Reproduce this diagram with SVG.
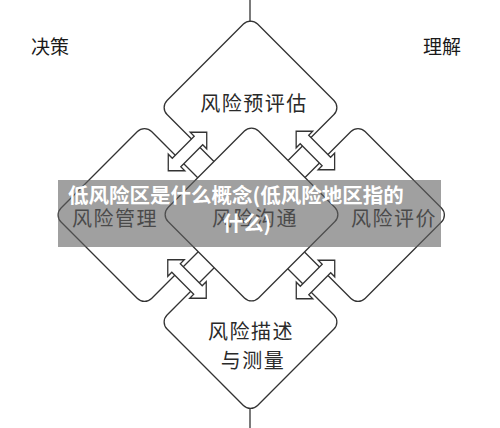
<svg xmlns="http://www.w3.org/2000/svg" width="500" height="428" viewBox="0 0 500 428">
<style>
.d{fill:#fff;stroke:#333;stroke-width:1.3}
.a{fill:#fff;stroke:#333;stroke-width:1.3;stroke-linejoin:miter}
.ln{stroke:#333;stroke-width:1.3;fill:none}
.t{font-family:"Noto Sans CJK SC","Noto Sans",sans-serif;font-size:20px;fill:#2a2a2a;text-anchor:middle;letter-spacing:1.5px}
.h{font-family:"Noto Sans CJK SC","Noto Sans",sans-serif;font-size:19px;fill:#1a1a1a}
.b{font-family:"Noto Sans CJK SC","Noto Sans",sans-serif;font-size:20.5px;font-weight:bold;fill:#fff}
</style>
<defs>
<rect id="dia" x="-64" y="-64" width="128" height="128" rx="10"/>
<path id="dbl" d="M -27.2,0 L -15.5,-11.7 L -15.5,-6 L 15.5,-6 L 15.5,-11.7 L 27.2,0 L 15.5,11.7 L 15.5,6 L -15.5,6 L -15.5,11.7 Z"/>
</defs>
<rect width="500" height="428" fill="#fff"/>
<text class="h" x="31" y="54">决策</text>
<text class="h" x="423" y="54">理解</text>
<g id="top"><use href="#dia" class="d" transform="translate(250.5,107.5) rotate(45)"/><text class="t" x="254" y="111">风险预评估</text></g>
<g id="left"><use href="#dia" class="d" transform="translate(144.5,215) rotate(45)"/><text class="t" x="115" y="226">风险管理</text></g>
<g id="right"><use href="#dia" class="d" transform="translate(358,215) rotate(45)"/><text class="t" x="394" y="226">风险评价</text></g>
<g id="bottom"><use href="#dia" class="d" transform="translate(250.5,322) rotate(45)"/><text class="t" x="251" y="339">风险描述</text><text class="t" x="253" y="368">与测量</text></g>
<g id="center"><use href="#dia" class="d" transform="translate(251.5,214.5) rotate(45)"/><text class="t" x="255" y="226">风险沟通</text></g>
<g id="connectors">
<line class="ln" x1="250" y1="0" x2="250" y2="22"/>
<line class="ln" x1="250" y1="408" x2="250" y2="428"/>
<use href="#dbl" class="a" transform="translate(187.5,151.5) rotate(-45)"/>
<use href="#dbl" class="a" transform="translate(315.4,150.5) rotate(45)"/>
<use href="#dbl" class="a" transform="translate(187,279) rotate(45)"/>
<use href="#dbl" class="a" transform="translate(315.5,279.5) rotate(-45)"/>
</g>
<rect x="58" y="180" width="383" height="67" fill="rgb(97,97,97)" fill-opacity="0.6"/>
<text class="b" x="68" y="203">低风险区是什么概念(低风险地区指的</text>
<text class="b" x="247" y="231" text-anchor="middle">什么)</text>
</svg>
